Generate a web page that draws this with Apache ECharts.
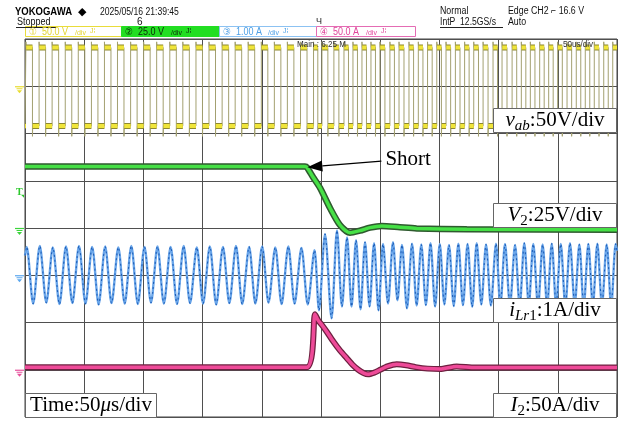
<!DOCTYPE html>
<html>
<head>
<meta charset="utf-8">
<script src="https://cdn.jsdelivr.net/npm/echarts@6/dist/echarts.min.js"></script>
<style>
  html, body { margin: 0; padding: 0; background: #fff; }
  #scope { width: 629px; height: 422px; }
</style>
</head>
<body>
<div id="scope"></div>
<script>
// ---- Screen: 10 x 8 divisions, time in microseconds from the left edge (50 us/div) ----
const T_MIN = 0, T_MAX = 500, T_DIV = 50;

// ---- Channel 1: bridge voltage v_ab (50 V/div, ground at +3 div) ----
const VAB_SCALE = 50, VAB_POS = 3;
const vabHigh = 41, vabLow = -42, vabOverHigh = 47, vabOverLow = -53;
const vabRise = [0.8, 11.9, 22.9, 34.0, 45.0, 56.1, 67.1, 78.1, 89.2, 100.2, 111.2, 122.3, 133.3, 144.4, 155.4, 166.5,
  177.5, 188.5, 199.6, 210.6, 221.6, 232.7, 243.7, 250.8, 260.9, 269.4, 277.0, 284.6, 292.2, 299.8, 308.2, 315.9,
  324.3, 332.2, 340.0, 347.8, 355.6, 363.5, 371.3, 379.0, 386.9, 395.3, 402.9, 411.4, 419.2, 426.8, 434.7, 442.3,
  449.9, 457.8, 465.6, 473.2, 480.8, 488.8, 496.4];
const vabFall = [6.3, 17.4, 28.4, 39.5, 50.5, 61.6, 72.6, 83.6, 94.7, 105.7, 116.7, 127.8, 138.8, 149.9, 160.9, 172.0,
  183.0, 194.0, 205.1, 216.1, 227.1, 238.2, 247.3, 255.8, 265.1, 273.2, 280.8, 288.4, 296.0, 304.0, 312.0, 320.1,
  328.2, 336.1, 343.9, 351.7, 359.5, 367.4, 375.1, 383.0, 391.1, 399.1, 407.1, 415.3, 423.0, 430.7, 438.5, 446.1,
  453.8, 461.7, 469.4, 477.0, 484.8, 492.6];

// ---- Channel 2: output voltage V2 (25 V/div, ground at 0 div) ----
const V2_SCALE = 25, V2_POS = 0;
const v2T = [0, 236.5, 238.2, 243.2, 249.2, 257.6, 266.0, 274.5, 282.9, 291.4, 301.3, 316.7, 330.8, 373.1, 500];
const v2V = [32.5, 32.5, 32.0, 27.0, 21.2, 10.6, 1.6, -2.5, -1.4, 0.2, 1.1, 0.4, -0.2, -0.7, -0.9];
const v2Trigger = 16.6;

// ---- Channel 3: resonant current i_Lr1 (1 A/div, ground at -1 div) ----
const ILR_SCALE = 1, ILR_POS = -1;
const ilrStart = 0.42, ilrEnd = 0.52;
const ilrPeakT = [1.4, 12.5, 23.5, 34.6, 45.6, 56.7, 67.7, 78.8, 89.8, 100.9, 111.9, 123.0, 134.0, 145.1, 156.1, 167.2,
  178.2, 189.3, 200.3, 211.4, 222.4, 233.5, 244.5, 253.4, 263.5, 272.0, 279.6, 287.2, 294.8, 302.4, 310.8, 318.4,
  326.9, 334.7, 342.5, 350.3, 358.1, 366.0, 373.8, 381.5, 389.4, 397.8, 405.4, 413.9, 421.7, 429.3, 437.2, 444.9,
  452.5, 460.3, 468.2, 475.8, 483.4, 491.3, 498.9];
const ilrPeakA = [0.60, 0.62, 0.59, 0.61, 0.62, 0.60, 0.61, 0.59, 0.62, 0.60, 0.61, 0.60, 0.62, 0.59, 0.61, 0.60,
  0.62, 0.60, 0.61, 0.59, 0.61, 0.58, 0.53, 0.87, 0.95, 0.80, 0.74, 0.70, 0.68, 0.66, 0.70, 0.64,
  0.67, 0.65, 0.68, 0.66, 0.64, 0.67, 0.66, 0.68, 0.65, 0.67, 0.66, 0.64, 0.68, 0.66, 0.65, 0.67,
  0.66, 0.68, 0.65, 0.66, 0.67, 0.65, 0.66];
const ilrTroughT = [6.9, 18.0, 29.1, 40.0, 51.1, 62.2, 73.1, 84.2, 95.3, 106.4, 117.3, 128.4, 139.4, 150.4, 161.5, 172.6,
  183.5, 194.6, 205.7, 216.7, 227.7, 238.8, 248.3, 258.9, 267.7, 275.8, 283.4, 291.0, 298.6, 306.6, 314.6, 322.6,
  330.8, 338.6, 346.4, 354.2, 362.1, 369.9, 377.7, 385.4, 393.5, 401.5, 409.6, 417.8, 425.5, 433.3, 441.0, 448.6,
  456.4, 464.3, 471.9, 479.6, 487.3, 495.1];
const ilrTroughA = [-0.60, -0.58, -0.61, -0.59, -0.60, -0.62, -0.59, -0.60, -0.61, -0.58, -0.60, -0.61, -0.59, -0.60, -0.62, -0.59,
  -0.61, -0.60, -0.58, -0.61, -0.60, -0.62, -0.74, -0.91, -0.66, -0.66, -0.72, -0.66, -0.74, -0.60, -0.53, -0.70,
  -0.64, -0.63, -0.66, -0.62, -0.65, -0.63, -0.67, -0.62, -0.64, -0.66, -0.63, -0.65, -0.62, -0.66, -0.64, -0.63,
  -0.65, -0.62, -0.66, -0.64, -0.63, -0.65];

// ---- Channel 4: output current I2 (50 A/div, ground at -3 div) ----
const I2_SCALE = 50, I2_POS = -3;
const i2T = [0, 237.9, 244.9, 247.5, 250.6, 255.0, 260.4, 266.0, 271.7, 276.5, 281.5, 286.0, 289.7, 295.0, 300.0,
  306.0, 313.9, 322.0, 330.0, 340.0, 350.5, 364.6, 380.0, 500];
const i2A = [2.6, 2.6, 58.7, 52.5, 47.6, 40.0, 29.9, 20.5, 12.4, 5.5, 0.0, -3.5, -4.8, -3.0, 0.0,
  3.5, 5.8, 4.8, 2.8, 1.2, 0.7, 3.5, 2.4, 2.4];

// event marker on V2
const shortT = 238.5, shortV = 32.2;

// ---- helpers ----
const toDiv = (v, scale, pos) => pos + v / scale;
const GAP = '-';

// square wave of v_ab, thin trace including the edge ringing
const vH = toDiv(vabHigh, VAB_SCALE, VAB_POS), vL = toDiv(vabLow, VAB_SCALE, VAB_POS);
const vOH = toDiv(vabOverHigh, VAB_SCALE, VAB_POS), vOL = toDiv(vabOverLow, VAB_SCALE, VAB_POS);
const vabTrace = [[T_MIN, vL]];
const vabFlats = [[T_MIN, vL]];
vabRise.forEach((r, i) => {
  vabTrace.push([r, vL], [r, vOH], [r + 0.2, vH]);
  vabFlats.push([r, vL], [r, GAP], [r + 0.2, vH]);
  if (i < vabFall.length) {
    const f = vabFall[i];
    vabTrace.push([f, vH], [f, vOL], [f + 0.2, vL]);
    vabFlats.push([f, vH], [f, GAP], [f + 0.2, vL]);
  } else {
    vabTrace.push([T_MAX, vH]);
    vabFlats.push([T_MAX, vH]);
  }
});

const v2Data = v2T.map((t, i) => [t, toDiv(v2V[i], V2_SCALE, V2_POS)]);

const ilrData = [[T_MIN, toDiv(ilrStart, ILR_SCALE, ILR_POS)]];
ilrPeakT.forEach((t, i) => {
  ilrData.push([t, toDiv(ilrPeakA[i], ILR_SCALE, ILR_POS)]);
  if (i < ilrTroughT.length) ilrData.push([ilrTroughT[i], toDiv(ilrTroughA[i], ILR_SCALE, ILR_POS)]);
});
ilrData.push([T_MAX, toDiv(ilrEnd, ILR_SCALE, ILR_POS)]);

const i2Data = i2T.map((t, i) => [t, toDiv(i2A[i], I2_SCALE, I2_POS)]);

const base = { type: 'line', showSymbol: false, symbol: 'none', animation: false, silent: true, connectNulls: false };

const chart = echarts.init(document.getElementById('scope'), null, { renderer: 'canvas' });
chart.setOption({
  backgroundColor: '#ffffff',
  animation: false,
  grid: { left: 25, top: 39, width: 592, height: 378, show: true, borderColor: '#444', borderWidth: 1, backgroundColor: 'transparent' },
  xAxis: {
    type: 'value', min: T_MIN, max: T_MAX, interval: T_DIV,
    axisLine: { show: false }, axisTick: { show: false }, axisLabel: { show: false },
    splitLine: { show: true, lineStyle: { color: '#4f4f4f', width: 1 } }
  },
  yAxis: {
    type: 'value', min: -4, max: 4, interval: 1,
    axisLine: { show: false }, axisTick: { show: false }, axisLabel: { show: false },
    splitLine: { show: true, lineStyle: { color: '#4f4f4f', width: 1 } }
  },
  series: [
    Object.assign({}, base, { name: 'vab', data: vabTrace, lineStyle: { color: '#a3a070', width: 1 }, z: 2 }),
    Object.assign({}, base, { name: 'vab-flat-edge', data: vabFlats, lineStyle: { color: '#8d8830', width: 6 }, z: 3 }),
    Object.assign({}, base, { name: 'vab-flat', data: vabFlats, lineStyle: { color: '#f0e53a', width: 4 }, z: 4 }),
    Object.assign({}, base, { name: 'V2-edge', data: v2Data, smooth: 0.25, lineStyle: { color: '#2f5a2f', width: 6.5 }, z: 5 }),
    Object.assign({}, base, { name: 'V2', data: v2Data, smooth: 0.25, lineStyle: { color: '#46e046', width: 3.5 }, z: 6 }),
    Object.assign({}, base, { name: 'iLr1', data: ilrData, smooth: 0.3, lineStyle: { color: '#6aa6ea', width: 2.4 }, z: 7 }),
    Object.assign({}, base, { name: 'iLr1-dots', data: ilrData, smooth: 0.3, lineStyle: { color: '#1f5fb8', width: 1.1, type: [2, 3] }, z: 8 }),
    Object.assign({}, base, { name: 'I2-edge', data: i2Data, smooth: 0.2, lineStyle: { color: '#6e2040', width: 6 }, z: 9 }),
    Object.assign({}, base, { name: 'I2', data: i2Data, smooth: 0.2, lineStyle: { color: '#ee4a98', width: 3.5 }, z: 10 })
  ]
});

// ---- overlay: header, channel tags, ground markers, captions ----
const SANS = '"Liberation Sans", "DejaVu Sans", "Noto Sans CJK SC", sans-serif';
const SERIF = '"Liberation Serif", "DejaVu Serif", serif';
const g = [];
function txt(x, y, s, o) {
  o = o || {};
  g.push({
    type: 'text', x: x, y: y, z: 60, scaleX: o.sx || 1,
    style: { text: s, font: o.font || ('10px ' + SANS), fill: o.fill || '#111', align: o.align || 'left', verticalAlign: 'middle' }
  });
}
function rect(x, y, w, h, fill, stroke) {
  g.push({ type: 'rect', z: 55, shape: { x: x, y: y, width: w, height: h }, style: { fill: fill, stroke: stroke, lineWidth: 1 } });
}
function line(x1, y1, x2, y2, color, w) {
  g.push({ type: 'line', z: 60, shape: { x1: x1, y1: y1, x2: x2, y2: y2 }, style: { stroke: color, lineWidth: w || 1 } });
}

// header lines
txt(15, 12, 'YOKOGAWA', { font: 'bold 10px ' + SANS, fill: '#000', sx: 0.95 });
txt(78, 12, '◆', { font: '11px ' + SANS, fill: '#000' });
txt(100, 12, '2025/05/16 21:39:45', { font: '10px ' + SANS, sx: 0.86 });
txt(17, 22, 'Stopped', { font: '10px ' + SANS, sx: 0.9 });
line(16, 27.5, 56, 27.5, '#222', 1);
txt(137, 22, '6', { font: '10px ' + SANS });
txt(316, 22, 'Ч', { font: '9px ' + SANS, fill: '#222' });
txt(440, 11, 'Normal', { font: '10px ' + SANS, sx: 0.88 });
txt(440, 22, 'IntP  12.5GS/s', { font: '10px ' + SANS, sx: 0.86 });
line(440, 27.5, 503, 27.5, '#222', 1);
txt(508, 11, 'Edge CH2 ⌐ 16.6 V', { font: '10px ' + SANS, sx: 0.88 });
txt(508, 22, 'Auto', { font: '10px ' + SANS, sx: 0.88 });

// channel tags
rect(25.5, 26.5, 96, 10, '#ffffff', '#e9dc3a');
txt(29, 31.8, '①  50.0 V', { font: '10px ' + SANS, fill: '#e3d430', sx: 0.9 });
txt(75, 33, '/div', { font: '7px ' + SANS, fill: '#e3d430' });
txt(90, 31.5, 'J⁞', { font: '7px ' + SANS, fill: '#e3d430' });
rect(121.5, 26.5, 98, 10, '#22de22', '#22de22');
txt(125, 31.8, '②  25.0 V', { font: '10px ' + SANS, fill: '#0a2a0a', sx: 0.9 });
txt(171, 33, '/div', { font: '7px ' + SANS, fill: '#0a2a0a' });
txt(186, 31.5, 'J⁞', { font: '7px ' + SANS, fill: '#0a2a0a' });
rect(219.5, 26.5, 97, 10, '#ffffff', '#8cc2f2');
txt(223, 31.8, '③  1.00 A', { font: '10px ' + SANS, fill: '#4c9fe6', sx: 0.9 });
txt(268, 33, '/div', { font: '7px ' + SANS, fill: '#4c9fe6' });
txt(283, 31.5, 'J⁞', { font: '7px ' + SANS, fill: '#4c9fe6' });
rect(316.5, 26.5, 99, 10, '#ffffff', '#e46cb4');
txt(320, 31.8, '④  50.0 A', { font: '10px ' + SANS, fill: '#e0449a', sx: 0.9 });
txt(366, 33, '/div', { font: '7px ' + SANS, fill: '#e0449a' });
txt(381, 31.5, 'J⁞', { font: '7px ' + SANS, fill: '#e0449a' });

// in-screen status text
txt(297, 44.5, 'Main : 6.25 M', { font: '9px ' + SANS, fill: '#333', sx: 0.9 });
txt(563, 45, '50us/div', { font: '9px ' + SANS, fill: '#333', sx: 0.9 });

// ground / trigger-level markers on the left edge, placed through the y axis
function groundMark(div, color) {
  const y = chart.convertToPixel({ yAxisIndex: 0 }, div);
  line(15, y + 0.5, 24, y + 0.5, color, 1.2);
  line(16.5, y + 2.5, 22.5, y + 2.5, color, 1);
  g.push({ type: 'polygon', z: 60, shape: { points: [[17, y + 4], [22, y + 4], [19.5, y + 7]] }, style: { fill: color } });
}
groundMark(VAB_POS, '#e8dc30');
groundMark(V2_POS, '#3cd43c');
groundMark(ILR_POS, '#5aa6ee');
groundMark(I2_POS, '#e6509c');
const trigY = chart.convertToPixel({ yAxisIndex: 0 }, toDiv(v2Trigger, V2_SCALE, V2_POS));
txt(16, trigY - 4, 'T', { font: 'bold 10px ' + SERIF, fill: '#2cc82c' });
g.push({ type: 'polygon', z: 60, shape: { points: [[21, trigY - 2], [24, trigY - 2], [24, trigY + 1]] }, style: { fill: '#2cc82c' } });

// caption boxes with scale factors
const rich = {
  n: { fontFamily: 'Liberation Serif', fontSize: 21, lineHeight: 26, verticalAlign: 'middle', color: '#000' },
  i: { fontFamily: 'Liberation Serif', fontStyle: 'italic', fontSize: 21, lineHeight: 26, verticalAlign: 'middle', color: '#000' },
  si: { fontFamily: 'Liberation Serif', fontStyle: 'italic', fontSize: 15, lineHeight: 26, verticalAlign: 'bottom', color: '#000' },
  sn: { fontFamily: 'Liberation Serif', fontSize: 15, lineHeight: 26, verticalAlign: 'bottom', color: '#000' }
};
function caption(x, y, w, h, text) {
  rect(x + 0.5, y + 0.5, w, h, '#ffffff', '#666');
  g.push({
    type: 'text', z: 61, x: x + w / 2 + 0.5, y: y + h / 2 + 0.5,
    style: { text: text, rich: rich, align: 'center', verticalAlign: 'middle' }
  });
}
caption(493, 108, 123, 24, '{i|v}{si|ab}{n|:50V/div}');
caption(493, 203, 123, 24, '{i|V}{sn|2}{n|:25V/div}');
caption(493, 298, 123, 24, '{i|i}{si|Lr}{sn|1}{n|:1A/div}');
caption(493, 393, 123, 24, '{i|I}{sn|2}{n|:50A/div}');
caption(25, 393, 131, 24, '{n|Time:50}{i|μ}{n|s/div}');

// "Short" annotation pointing at the V2 collapse
const tip = chart.convertToPixel({ gridIndex: 0 }, [shortT, toDiv(shortV, V2_SCALE, V2_POS)]);
const tail = [tip[0] + 74, tip[1] - 6];
const ang = Math.atan2(tail[1] - tip[1], tail[0] - tip[0]);
const hl = 15, hw = 5.5;
const bx = tip[0] + hl * Math.cos(ang), by = tip[1] + hl * Math.sin(ang);
line(bx, by, tail[0], tail[1], '#000', 1.2);
g.push({
  type: 'polygon', z: 62,
  shape: { points: [[tip[0], tip[1]], [bx - hw * Math.sin(ang), by + hw * Math.cos(ang)], [bx + hw * Math.sin(ang), by - hw * Math.cos(ang)]] },
  style: { fill: '#000' }
});
g.push({
  type: 'text', z: 62, x: tail[0] + 4, y: tail[1] - 2,
  style: { text: 'Short', font: '21px ' + SERIF, fill: '#000', align: 'left', verticalAlign: 'middle' }
});

chart.setOption({ graphic: g });
</script>
</body>
</html>
